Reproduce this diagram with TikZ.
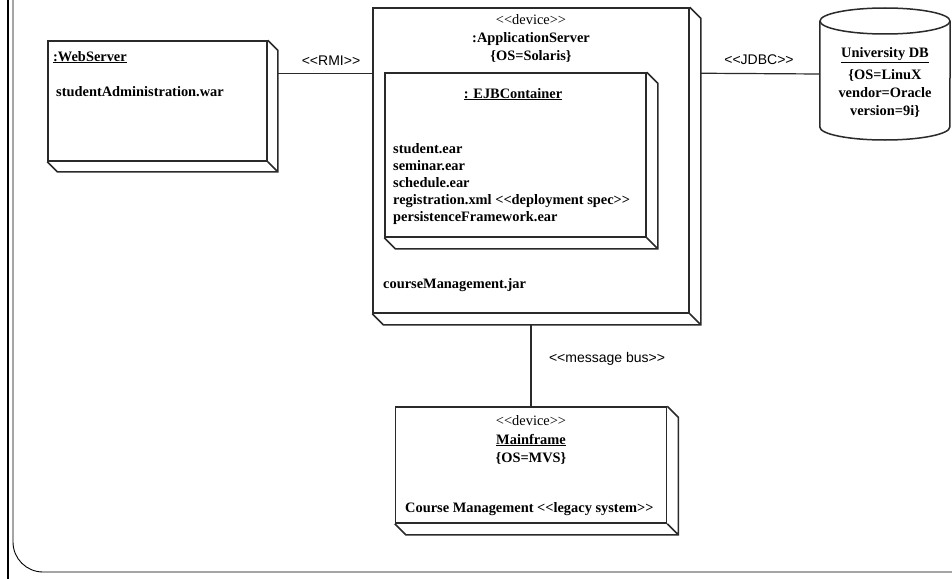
\documentclass[tikz,border=0pt]{standalone}
\usepackage{fontspec}
\setmainfont{Liberation Serif}
\newfontfamily\labelfont{Liberation Sans}
\usetikzlibrary{calc}
\definecolor{edge}{HTML}{2A2A2A}
\tikzset{
  face/.style={draw=edge, line width=1.5pt, fill=white, rectangle, inner sep=0pt},
  rim/.style={draw=edge, line width=1.5pt, line join=miter},
  wire/.style={draw=edge, line width=1.2pt},
  txt/.style={font=\fontsize{14.4}{17}\selectfont\bfseries, inner sep=0pt, anchor=base west, align=left},
  ctxt/.style={font=\fontsize{14.4}{18}\selectfont\bfseries, inner sep=0pt, anchor=base, align=center},
  stereo/.style={font=\fontsize{14.4}{18}\selectfont, inner sep=0pt, anchor=base},
  lbl/.style={font=\labelfont\fontsize{14}{16}\selectfont, inner sep=0pt, anchor=base},
}
% right and lower faces of a UML node box
\newcommand\drawdepth[2]{%
  \draw[rim] (#1.north east) -- ++(#2,#2) -- ($(#1.south east)+(#2,#2)$)
    -- ($(#1.south west)+(#2,#2)$) -- (#1.south west)
    (#1.south east) -- ++(#2,#2);}
\begin{document}
\begin{tikzpicture}[x=1pt,y=-1pt]
\useasboundingbox (0,0) rectangle (952,578);
\clip (0,0) rectangle (952,578);
\fill[white] (0,0) rectangle (952,578);

% page frame
\draw[line width=2.4pt] (8,-5) -- (8,583);
\draw[line width=0.9pt, rounded corners=30pt] (13,-40) -- (13,572) -- (982,572) -- (982,-40);

% application server with its EJB container
\node[face, minimum width=316pt, minimum height=305pt] (as) at (531,160.5) {};
\drawdepth{as}{11}
\node[stereo] (asst) at (531,25) {<{}<device>{}>};
\node[ctxt] (asname) at (531,42) {:ApplicationServer};
\node[ctxt] (asos) at (531,60) {\{OS=Solaris\}};

\node[face, minimum width=261pt, minimum height=164pt] (ejb) at (515.5,155) {};
\drawdepth{ejb}{11}
\node[ctxt] (ejbname) at (513,98) {\underline{: EJBContainer}};
% multi-line text: the base anchor sits on the last line
\node[txt] (ejbfiles) at (393,221) {student.ear\\seminar.ear\\schedule.ear\\registration.xml <{}<deployment spec>{}>\\persistenceFramework.ear};
\node[txt] (jar) at (383,288) {courseManagement.jar};

% web server
\node[face, minimum width=219pt, minimum height=120pt] (ws) at (157.5,101) {};
\drawdepth{ws}{10}
\node[txt] (wsname) at (53,61) {\underline{:WebServer}};
\node[txt] (war) at (56,96) {studentAdministration.war};

% database
\node[minimum width=130pt, minimum height=132pt, inner sep=0pt] (db) at (885,74) {};
\draw[rim, fill=white] (db.west |- 0,21) -- (db.west |- 0,127)
  arc[start angle=180, end angle=360, x radius=65pt, y radius=13pt]
  -- (db.east |- 0,21);
\draw[rim, fill=white] (885,21) ellipse[x radius=65pt, y radius=13pt];
\node[ctxt] (dbname) at (885,58) {\underline{University DB}};
\node[ctxt] (dbprops) at (885,115) {\{OS=LinuX\\vendor=Oracle\\version=9i\}};

% mainframe
\node[face, minimum width=271pt, minimum height=116pt] (mf) at (531,465) {};
\drawdepth{mf}{11}
\node[stereo] (mfst) at (531,425) {<{}<device>{}>};
\node[ctxt] (mfname) at (531,444) {\underline{Mainframe}};
\node[ctxt] (mfos) at (531,462) {\{OS=MVS\}};
\node[txt] (legacy) at (405,512) {Course Management <{}<legacy system>{}>};

% communication paths
\draw[wire] ([shift={(10,33)}]ws.north east) coordinate (rmiL) -- (rmiL -| as.west);
\node[lbl] (rmi) at (331,66) {<{}<RMI>{}>};
\draw[wire] ([shift={(11,66)}]as.north east) -- (db.west);
\node[lbl] (jdbc) at (759,64) {<{}<JDBC>{}>};
\draw[wire] ([shift={(0,11)}]as.south) -- (mf.north);
\node[lbl] (bus) at (607,362) {<{}<message bus>{}>};
\end{tikzpicture}
\end{document}
